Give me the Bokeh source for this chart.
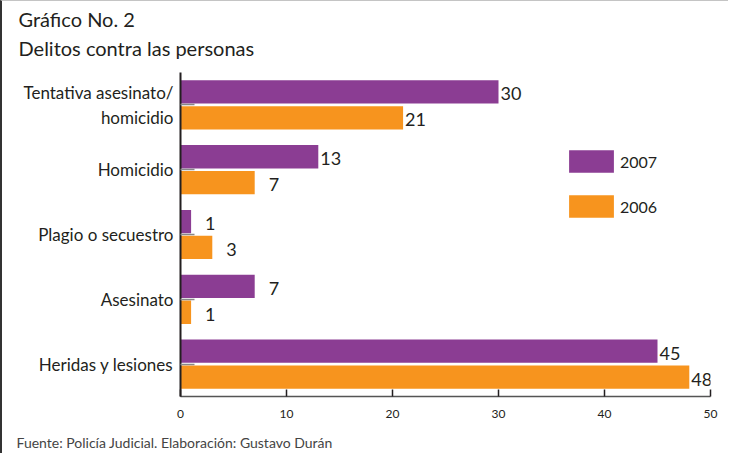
from bokeh.plotting import figure
from bokeh.models import (FactorRange, Range1d, FixedTicker, Title, LabelSet, Legend,
                          LegendItem, ColumnDataSource)
from bokeh.transform import dodge
from bokeh.core.properties import value
from bokeh.embed import file_html
from bokeh.resources import INLINE

# ---- data ----
categories = ["Tentativa asesinato/\nhomicidio", "Homicidio", "Plagio o secuestro",
              "Asesinato", "Heridas y lesiones"]
values_2007 = [30, 13, 1, 7, 45]
values_2006 = [21, 7, 3, 1, 48]
series_names = ["2007", "2006"]
x_ticks = [0, 10, 20, 30, 40, 50]
title_lines = ["Gráfico No. 2", "Delitos contra las personas"]
source_note = "Fuente: Policía Judicial. Elaboración: Gustavo Durán"

# ---- style ----
PURPLE = "#8B3D93"
ORANGE = "#F7941E"
INK = "#231F20"
FONT = "Lato"

def label_offset(v):
    return 14 if v < 10 else 2

src = ColumnDataSource(dict(
    cat=categories,
    v07=values_2007,
    v06=values_2006,
    l07=[str(v) for v in values_2007],
    l06=[str(v) for v in values_2006],
    o07=[label_offset(v) for v in values_2007],
    o06=[label_offset(v) for v in values_2006],
))

p = figure(width=728, height=453,
           y_range=FactorRange(factors=list(reversed(categories))),
           x_range=Range1d(0, 50),
           output_backend="svg", toolbar_location=None,
           min_border_left=178, min_border_right=20,
           min_border_top=71, min_border_bottom=58)
# chart box: dark rule on the left, light rule on top
p.styles = {"border-left": "2px solid #333333", "border-top": "1px solid #c4c4c4"}

y07 = dodge("cat", 0.2, range=p.y_range)
y06 = dodge("cat", -0.2, range=p.y_range)

r07 = p.hbar(y=y07, left=0, right="v07", height=0.36, source=src,
             fill_color=PURPLE, line_color=None)
r06 = p.hbar(y=y06, left=0, right="v06", height=0.36, source=src,
             fill_color=ORANGE, line_color=None)

for xf, yf, tf, of in [("v07", y07, "l07", "o07"), ("v06", y06, "l06", "o06")]:
    p.add_layout(LabelSet(x=xf, y=yf, text=tf, x_offset=of, y_offset=-2, source=src,
                          text_baseline="middle", text_font=value(FONT),
                          text_font_size="18px", text_color=INK, level="overlay"))

# axes
p.xaxis.ticker = FixedTicker(ticks=x_ticks)
p.xaxis.major_tick_in = 7
p.xaxis.major_tick_out = 0
p.xaxis.minor_tick_line_color = None
p.xaxis.axis_line_color = "#555555"
p.xaxis.axis_line_width = 1.5
p.xaxis.major_tick_line_color = INK
p.xaxis.major_tick_line_width = 1.5
p.xaxis.major_label_text_font = FONT
p.xaxis.major_label_text_font_size = "12px"
p.xaxis.major_label_text_color = INK
p.xaxis.major_label_standoff = 13

p.yaxis.major_tick_in = 14
p.yaxis.major_tick_out = 0
p.yaxis.major_tick_line_color = "#888888"
p.yaxis.major_tick_line_width = 1.5
p.yaxis.axis_line_color = INK
p.yaxis.axis_line_width = 2
p.yaxis.major_label_text_font = FONT
p.yaxis.major_label_text_font_size = "17px"
p.yaxis.major_label_text_color = INK
p.yaxis.major_label_standoff = 7

p.xgrid.grid_line_color = None
p.ygrid.grid_line_color = None
p.outline_line_color = None

legend = Legend(items=[LegendItem(label=series_names[0], renderers=[r07]),
                       LegendItem(label=series_names[1], renderers=[r06])],
                location=(383, 176), glyph_width=56, glyph_height=28,
                spacing=17, label_standoff=1, padding=0, margin=0,
                border_line_color=None, background_fill_alpha=0,
                label_text_font=FONT, label_text_font_size="16px",
                label_text_color=INK)
p.add_layout(legend, "center")

# header (inner line first: panels stack outward from the frame)
p.add_layout(Title(text=title_lines[1], align="left", offset=-162, standoff=25.5,
                   vertical_align="bottom",
                   text_font=FONT, text_font_size="20px", text_font_style="normal",
                   text_color=INK), "above")
p.add_layout(Title(text=title_lines[0], align="left", offset=-162, standoff=-21.5,
                   vertical_align="bottom",
                   text_font=FONT, text_font_size="20px", text_font_style="normal",
                   text_color=INK), "above")
# footer (a blank spacer panel sits between the x axis and the source note)
p.add_layout(Title(text=" ", text_font_size="6px", standoff=2.6), "below")
p.add_layout(Title(text=source_note, align="left", offset=-164, standoff=0,
                   vertical_align="bottom",
                   text_font=FONT, text_font_size="14px", text_font_style="normal",
                   text_color="#444444"), "below")

open("out.html", "w").write(file_html(p, INLINE))
